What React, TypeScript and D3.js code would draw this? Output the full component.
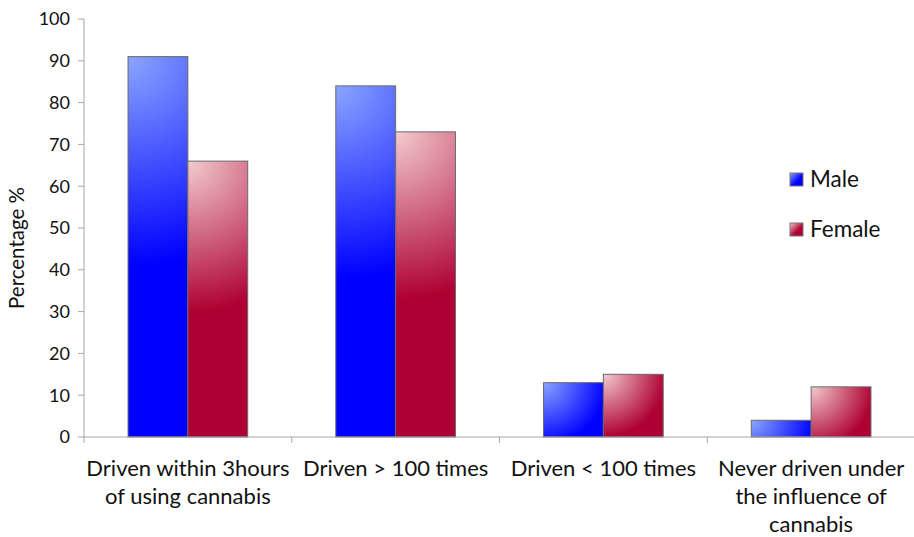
import React from "react";
import * as d3 from "d3";

const categories = [
  ["Driven within 3hours", "of using cannabis"],
  ["Driven > 100 times"],
  ["Driven < 100 times"],
  ["Never driven under", "the influence of", "cannabis"],
];
const maleValues = [91, 84, 13, 4];
const femaleValues = [66, 73, 15, 12];
const seriesNames = ["Male", "Female"];
const yTicks = [0, 10, 20, 30, 40, 50, 60, 70, 80, 90, 100];

const W = 914;
const H = 537;
const left = 84;
const right = 915;
const top = 19;
const bottom = 437;
const FONT = "Lato, 'Open Sans', sans-serif";

const colors = [
  { light: "#8aa6ff", full: "#0000ff" },
  { light: "#f2ccd0", full: "#ae0032" },
];

export default function App() {
  const x0 = d3.scaleBand<number>().domain(d3.range(categories.length)).range([left, right]).paddingInner(0).paddingOuter(0);
  const gap = x0.bandwidth() * 0.212;
  const x1 = d3.scaleBand<number>().domain([0, 1]).range([gap, x0.bandwidth() - gap]).paddingInner(0).paddingOuter(0);
  const y = d3.scaleLinear().domain([0, 100]).range([bottom, top]);
  const series = [maleValues, femaleValues];

  const bars: any[] = [];
  const defs: any[] = [];
  series.forEach((vals, si) => {
    vals.forEach((v, ci) => {
      const bx = (x0(ci) as number) + (x1(si) as number);
      const bw = x1.bandwidth();
      const by = y(v);
      const bh = bottom - by;
      const id = `g-${si}-${ci}`;
      const r = Math.max(bh * 0.55, bw * 1.05);
      defs.push(
        <radialGradient key={id} id={id} gradientUnits="userSpaceOnUse" cx={bx} cy={by} r={r} fx={bx} fy={by}>
          <stop offset="0" stopColor={colors[si].light} />
          <stop offset="1" stopColor={colors[si].full} />
        </radialGradient>
      );
      bars.push(
        <rect key={id} x={bx} y={by} width={bw} height={bh} fill={`url(#${id})`} stroke="#6a6a6a" strokeWidth={1} />
      );
    });
  });

  const boundaries = d3.range(categories.length + 1).map((i) => left + i * x0.step());

  return (
    <svg width={W} height={H} style={{ position: "absolute", left: 0, top: 0, background: "#fff" }}>
      <defs>
        {defs}
        {colors.map((c, i) => (
          <linearGradient key={"lg" + i} id={"lg" + i} x1="0" y1="0" x2="1" y2="1">
            <stop offset="0" stopColor={c.light} />
            <stop offset="0.6" stopColor={c.full} />
          </linearGradient>
        ))}
      </defs>
      {bars}
      {/* y axis */}
      <line x1={left} x2={left} y1={top} y2={bottom} stroke="#a6a6a6" />
      {yTicks.map((t) => (
        <g key={t}>
          <line x1={left - 6} x2={left} y1={y(t)} y2={y(t)} stroke="#a6a6a6" />
          <text x={left - 14} y={y(t)} dy="0.35em" textAnchor="end" fontFamily={FONT} fontSize={18} fill="#111">
            {t}
          </text>
        </g>
      ))}
      {/* x axis */}
      <line x1={left} x2={right} y1={bottom} y2={bottom} stroke="#a6a6a6" />
      {boundaries.map((b, i) => (
        <line key={i} x1={b} x2={b} y1={bottom} y2={bottom + 6} stroke="#a6a6a6" />
      ))}
      {categories.map((lines, ci) => (
        <text key={ci} x={(x0(ci) as number) + x0.bandwidth() / 2} y={476} textAnchor="middle" fontFamily={FONT} fontSize={22} fill="#111">
          {lines.map((l, li) => (
            <tspan key={li} x={(x0(ci) as number) + x0.bandwidth() / 2} dy={li === 0 ? 0 : 28}>
              {l}
            </tspan>
          ))}
        </text>
      ))}
      <text transform={`translate(24,${(top + bottom) / 2 + 20}) rotate(-90)`} textAnchor="middle" fontFamily={FONT} fontSize={20.5} fill="#111">
        Percentage %
      </text>
      {seriesNames.map((n, i) => (
        <g key={n}>
          <rect x={790} y={173 + i * 50} width={13} height={13} fill={`url(#lg${i})`} stroke="#777" strokeWidth={1} />
          <text x={810} y={187 + i * 50} fontFamily={FONT} fontSize={22.5} fill="#111">
            {n}
          </text>
        </g>
      ))}
    </svg>
  );
}
